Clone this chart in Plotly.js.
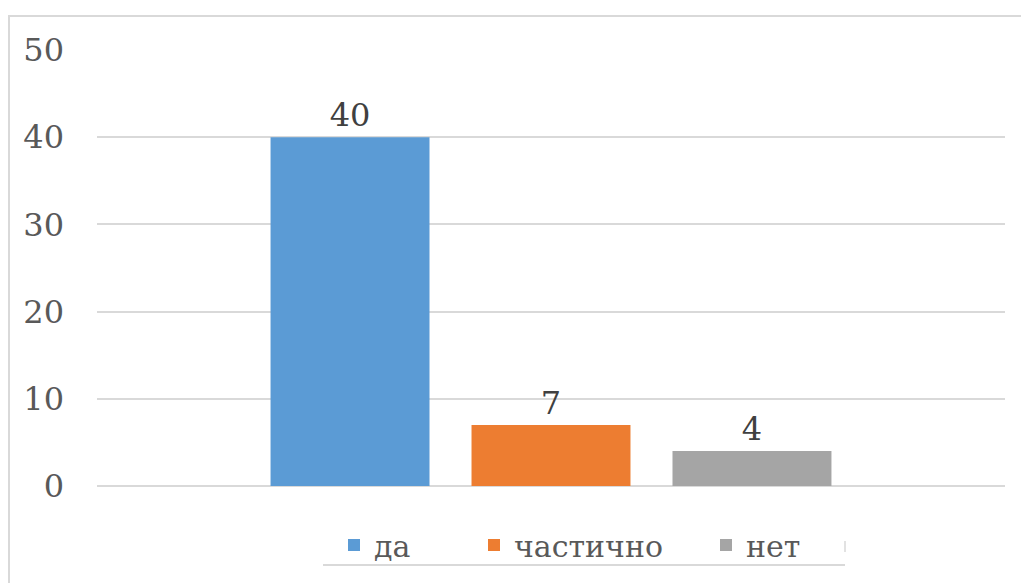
<!DOCTYPE html>
<html>
<head>
<meta charset="utf-8">
<script src="https://cdn.plot.ly/plotly-3.0.1.min.js"></script>
<style>
html,body{margin:0;padding:0;background:#fff;overflow:hidden;}
#chart{width:1021px;height:583px;}
</style>
</head>
<body>
<div id="chart"></div>
<script>
const category = ['Ответ'];
const seriesNames = ['да', 'частично', 'нет'];
const seriesValues = [40, 7, 4];
const seriesColors = ['#5B9BD5', '#ED7D31', '#A5A5A5'];
const yTickValues = [0, 10, 20, 30, 40, 50];

const FONT = 'DejaVu Serif, serif';
const legendIds = ['legend', 'legend2', 'legend3'];

const traces = seriesNames.map((name, i) => ({
  type: 'bar',
  name: name,
  x: category,
  y: [seriesValues[i]],
  marker: {color: seriesColors[i]},
  text: [String(seriesValues[i])],
  textposition: 'outside',
  cliponaxis: false,
  textfont: {family: FONT, size: 32, color: '#404040'},
  legend: legendIds[i],
  hoverinfo: 'skip'
}));

const L = 97, R = 1005, T = 50, B = 486;
const px = v => (v - L) / (R - L);
const py = v => (B - v) / (B - T);

const legendTextStarts = [334, 474, 706];
function legendAt(xPix) {
  return {
    orientation: 'h',
    x: px(xPix), xanchor: 'left',
    y: py(545), yanchor: 'middle',
    font: {family: FONT, size: 30, color: '#595959'},
    itemwidth: 30,
    bgcolor: 'rgba(0,0,0,0)'
  };
}

const layout = {
  width: 1021,
  height: 583,
  margin: {l: L, r: 1021 - R, t: T, b: 583 - B, autoexpand: false},
  paper_bgcolor: '#ffffff',
  plot_bgcolor: '#ffffff',
  font: {family: FONT, size: 32, color: '#595959'},
  barmode: 'group',
  bargap: 0.336,
  bargroupgap: 0.209,
  showlegend: true,
  legend: legendAt(legendTextStarts[0]),
  legend2: legendAt(legendTextStarts[1]),
  legend3: legendAt(legendTextStarts[2]),
  xaxis: {
    showticklabels: false,
    showgrid: false,
    zeroline: false,
    showline: false,
    ticks: ''
  },
  yaxis: {
    range: [0, 50],
    tickvals: yTickValues,
    ticktext: yTickValues.map(String),
    showgrid: true,
    gridcolor: '#D9D9D9',
    gridwidth: 2,
    zeroline: true,
    zerolinecolor: '#D9D9D9',
    zerolinewidth: 2,
    showline: false,
    ticks: '',
    ticklabelstandoff: 32,
    tickfont: {family: FONT, size: 32, color: '#595959'}
  },
  shapes: [
    {type: 'rect', xref: 'paper', yref: 'paper',
     x0: px(9), x1: px(1040), y0: py(600), y1: py(16),
     line: {color: '#D9D9D9', width: 2}, fillcolor: 'rgba(0,0,0,0)', layer: 'below'},
    {type: 'line', xref: 'paper', yref: 'paper',
     x0: px(323), x1: px(845), y0: py(565), y1: py(565),
     line: {color: '#D9D9D9', width: 2}},
    {type: 'line', xref: 'paper', yref: 'paper',
     x0: px(845), x1: px(845), y0: py(541), y1: py(552),
     line: {color: '#D9D9D9', width: 1.5}}
  ]
};

Plotly.newPlot('chart', traces, layout, {displayModeBar: false});
</script>
</body>
</html>
